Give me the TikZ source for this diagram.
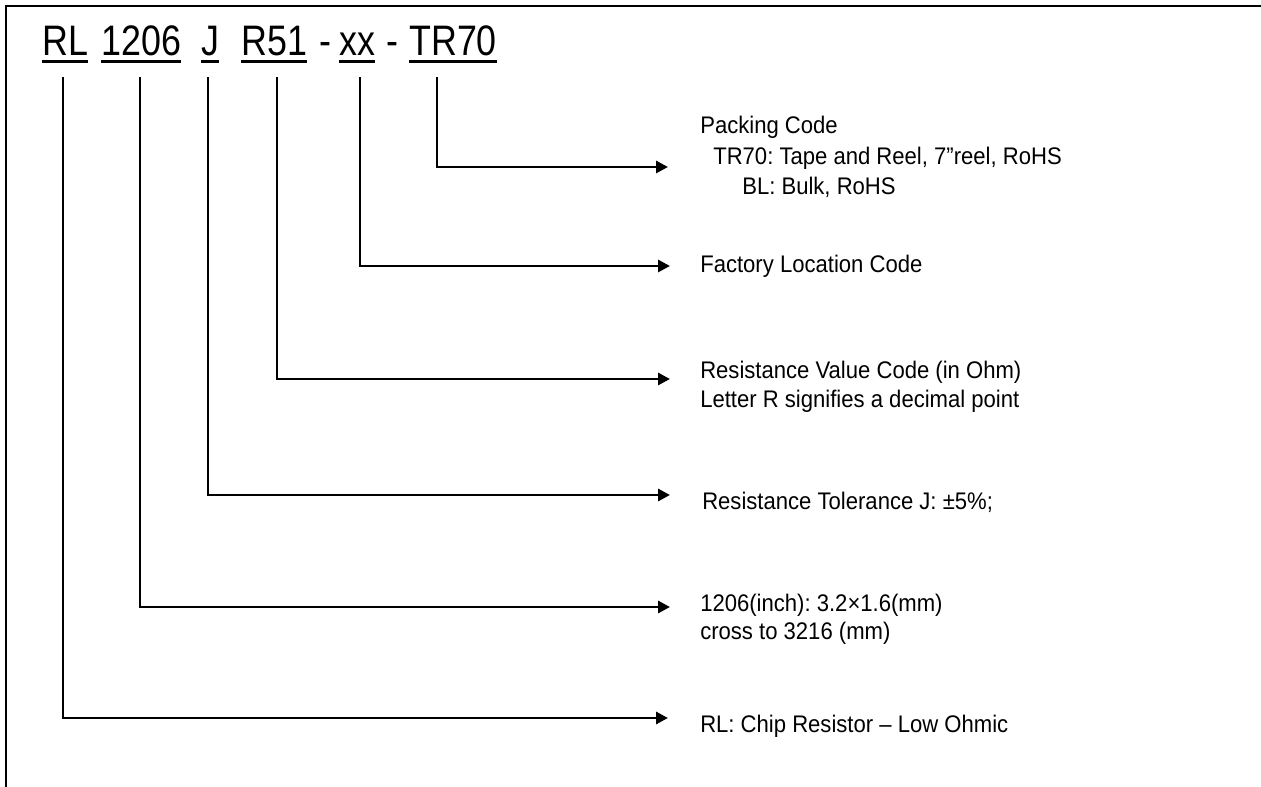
\documentclass[tikz,border=0pt]{standalone}
\usepackage{fontspec}
\setmainfont{Liberation Sans}
\newfontfamily\codefont{Liberation Sans}[FakeStretch=0.84]
\newfontfamily\bodyfont{Liberation Sans}[FakeStretch=0.92]
\usepackage{tikz}
\usetikzlibrary{arrows.meta,positioning,calc}
\frenchspacing

\begin{document}
\begin{tikzpicture}[x=0.75pt,y=-0.75pt,>={Triangle[length=9pt,width=9pt]},
  every node/.style={font=\bodyfont\fontsize{18}{21}\selectfont,inner sep=0pt,anchor=base west},
  code/.style={font=\codefont\fontsize{32}{36}\selectfont},
  lead/.style={line width=2.2pt}]
\useasboundingbox (0,0) rectangle (1261,787);
\draw[line width=1.5pt] (6,787) -- (6,6) -- (1261,6);
% part number
\node[code] (rl) at (42,56) {RL};
\node[code] (size) at (101,56) {1206};
\node[code] (tol) at (201,56) {J};
\node[code] (val) at (241,56) {R51};
\node[code] (dashA) at (319,56) {-};
\node[code] (fac) at (339,56) {xx};
\node[code] (dashB) at (386,56) {-};
\node[code] (pack) at (409,56) {TR70};
\foreach \n in {rl,size,tol,val,fac,pack}
  \draw[line width=1.8pt] ([yshift=-4pt]\n.base west) -- ([yshift=-4pt]\n.base east);
% lead tops and arrow ends
\coordinate (rlTop) at (63,77);
\coordinate (sizeTop) at (140,77);
\coordinate (tolTop) at (208,77);
\coordinate (valTop) at (277,77);
\coordinate (facTop) at (360,77);
\coordinate (packTop) at (437,77);
\coordinate (packEnd) at (668,167);
\coordinate (facEnd) at (670,266);
\coordinate (valEnd) at (670,379);
\coordinate (tolEnd) at (670,495);
\coordinate (sizeEnd) at (670,607);
\coordinate (rlEnd) at (668,718);
% descriptions
\node (packHead) at (700,134) {Packing Code};
\node (packTR) at (713,165) {TR70: Tape and Reel, 7”reel, RoHS};
\node (packBL) at (742,195) {BL: Bulk, RoHS};
\node (facText) at (700,273) {Factory Location Code};
\node (valText) at (700,379) {Resistance Value Code (in Ohm)};
\node (valNote) at (700,408) {Letter R signifies a decimal point};
\node (tolText) at (702,510) {Resistance Tolerance J: ±5\%;};
\node (sizeText) at (700,612) {1206(inch): 3.2×1.6(mm)};
\node (sizeNote) at (700,640) {cross to 3216 (mm)};
\node (rlText) at (700,732) {RL: Chip Resistor – Low Ohmic};
% leads
\draw[lead,->] (packTop) |- (packEnd);
\draw[lead,->] (facTop) |- (facEnd);
\draw[lead,->] (valTop) |- (valEnd);
\draw[lead,->] (tolTop) |- (tolEnd);
\draw[lead,->] (sizeTop) |- (sizeEnd);
\draw[lead,->] (rlTop) |- (rlEnd);
\end{tikzpicture}
\end{document}
